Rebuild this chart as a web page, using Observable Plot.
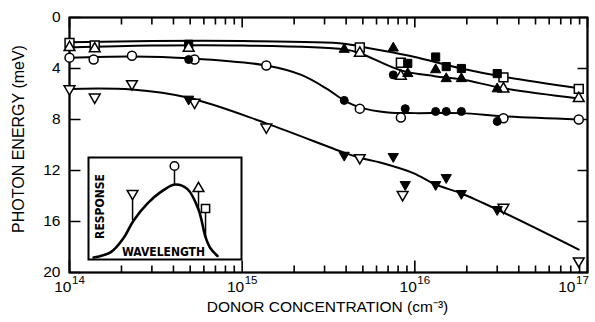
<!DOCTYPE html>
<html><head><meta charset="utf-8">
<script src="https://cdn.jsdelivr.net/npm/d3@7"></script>
<script src="https://cdn.jsdelivr.net/npm/@observablehq/plot@0.6"></script>
<style>
body{margin:0;background:#fff;}
#wrap{position:relative;width:595px;height:322px;background:#fff;}
#wrap svg.inset{position:absolute;left:87px;top:156px;}
</style></head><body><div id="wrap"></div>
<script>
// ---- axis ticks ----
const xTickMajor = [1e14, 1e15, 1e16, 1e17];
const xTickExp = ["14", "15", "16", "17"];
const xTickMinor = [2e14,3e14,4e14,5e14,6e14,7e14,8e14,9e14,
                    2e15,3e15,4e15,5e15,6e15,7e15,8e15,9e15,
                    2e16,3e16,4e16,5e16,6e16,7e16,8e16,9e16];
const yTicks = [0, 4, 8, 12, 16, 20];
const xTitle = "DONOR CONCENTRATION (cm⁻³)";
const yTitle = "PHOTON ENERGY (meV)";

// ---- square series (top curve) ----
const openSquareX = [1e14, 1.4e14, 4.8e15, 8.3e15, 3.26e16, 8.9e16];
const openSquareY = [2.0, 2.2, 2.35, 3.55, 4.7, 5.6];
const filledSquareX = [4.9e14, 9.1e15, 1.32e16, 1.52e16, 1.86e16, 3.0e16];
const filledSquareY = [2.1, 3.6, 3.1, 3.85, 4.0, 4.4];
const curveSquareX = [1e14, 3e14, 1e15, 3.9e15, 4.8e15, 7.5e15, 1e16, 1.86e16, 3.26e16, 8.9e16];
const curveSquareY = [1.95, 1.85, 1.85, 2.05, 2.27, 2.75, 3.1, 4.0, 4.65, 5.55];

// ---- up-triangle series ----
const openTriX = [1e14, 1.4e14, 4.9e14, 4.8e15, 8.3e15, 3.26e16, 8.9e16];
const openTriY = [2.35, 2.45, 2.4, 2.8, 4.6, 5.6, 6.35];
const filledTriX = [3.9e15, 7.5e15, 9.1e15, 1.32e16, 1.52e16, 1.86e16, 3.0e16];
const filledTriY = [2.5, 2.4, 4.4, 4.1, 4.8, 4.8, 5.6];
const curveTriX = [1e14, 3e14, 1e15, 3.9e15, 4.8e15, 8.3e15, 1.3e16, 1.86e16, 3.26e16, 8.9e16];
const curveTriY = [2.35, 2.2, 2.2, 2.5, 2.8, 4.15, 4.6, 4.85, 5.55, 6.35];

// ---- circle series ----
const openCircX = [1e14, 1.38e14, 2.3e14, 5.3e14, 1.38e15, 4.8e15, 8.3e15, 3.26e16, 8.9e16];
const openCircY = [3.15, 3.3, 3.0, 3.3, 3.76, 7.15, 7.85, 7.9, 8.0];
const filledCircX = [4.9e14, 3.9e15, 7.5e15, 8.8e15, 1.32e16, 1.52e16, 1.86e16, 3.0e16];
const filledCircY = [3.3, 6.5, 4.5, 7.15, 7.37, 7.37, 7.37, 8.15];
const curveCircX = [1e14, 2.3e14, 5e14, 1.38e15, 2.2e15, 3.1e15, 3.9e15, 4.8e15, 7e15, 1e16, 1.86e16, 3.26e16, 8.9e16];
const curveCircY = [3.15, 3.05, 3.2, 3.76, 4.5, 5.6, 6.5, 7.05, 7.45, 7.5, 7.5, 7.75, 8.0];

// ---- down-triangle series ----
const openDownX = [1e14, 1.4e14, 2.3e14, 5.3e14, 1.38e15, 4.8e15, 8.5e15, 3.26e16, 8.9e16];
const openDownY = [5.6, 6.25, 5.2, 6.65, 8.6, 11.0, 13.9, 14.9, 19.1];
const filledDownX = [4.9e14, 3.9e15, 7.5e15, 8.8e15, 1.32e16, 1.52e16, 1.86e16, 3.0e16];
const filledDownY = [6.4, 10.8, 10.9, 13.1, 13.1, 12.55, 13.8, 15.06];
const curveDownX = [1e14, 2.3e14, 4.9e14, 1.38e15, 3.9e15, 4.8e15, 6.3e15, 9.8e15, 1.32e16, 1.86e16, 3.0e16, 8.9e16];
const curveDownY = [5.6, 5.65, 6.3, 8.3, 10.6, 11.0, 11.37, 12.2, 13.1, 13.8, 15.06, 18.2];

// ---- inset: response vs wavelength (arbitrary units) ----
const insetWl = [0.033, 0.144, 0.229, 0.294, 0.386, 0.471, 0.565, 0.647, 0.719, 0.765, 0.797, 0.843];
const insetResp = [0.02, 0.07, 0.21, 0.38, 0.55, 0.66, 0.735, 0.69, 0.49, 0.22, 0.11, 0.035];
const insetMarkWl = [0.288, 0.562, 0.719, 0.765];
const insetMarkBase = [0.382, 0.735, 0.49, 0.22];
const insetMarkTop = [0.647, 0.917, 0.696, 0.5];
const insetMarkSym = ["down", "circle", "triangle", "square"];

// ---- helpers ----
const zip = (xs, ys) => xs.map((x, i) => ({x, y: ys[i]}));
const downTri = {
  draw(context, size) {
    const s3 = Math.sqrt(3);
    const y = -Math.sqrt(size / (s3 * 3));
    context.moveTo(0, -y * 2);
    context.lineTo(-s3 * y, y);
    context.lineTo(s3 * y, y);
    context.closePath();
  }
};

const FONT = "'Liberation Sans', Arial, sans-serif";
const W = 595, H = 322, ML = 69, MR = 8, MT = 17, MB = 50;
const FW = W - ML - MR, FH = H - MT - MB;
const Y0 = 0, Y1 = 20, XD0 = 1e14, XD1 = 1e17;
// convert pixel tick lengths to data units (styling only)
const yLen = px => px * (Y1 - Y0) / FH;
const xMul = px => Math.pow(10, px * Math.log10(XD1 / XD0) / FW);

// Each frame side is one continuous polyline that runs along the edge and
// steps inward at every tick (so the ticks are part of the axis line itself).
const xTicksAll = [...xTickMajor.map(v => ({v, major: true})), ...xTickMinor.map(v => ({v, major: false}))]
  .sort((a, b) => a.v - b.v);
const sidePath = (side) => {
  const pts = [];
  if (side === "bottom" || side === "top") {
    const base = side === "bottom" ? Y1 : Y0;
    const dir = side === "bottom" ? -1 : 1;
    xTicksAll.forEach(t => {
      const len = t.major ? (side === "bottom" ? 12 : 10) : 7;
      pts.push({x: t.v, y: base}, {x: t.v, y: base + dir * yLen(len)}, {x: t.v, y: base});
    });
  } else {
    const left = side === "left";
    const xb = left ? XD0 : XD1;
    const xi = left ? XD0 * xMul(11) : XD1 / xMul(10);
    yTicks.forEach(v => pts.push({x: xb, y: v}, {x: xi, y: v}, {x: xb, y: v}));
  }
  return pts;
};
const sideOpts = {x: "x", y: "y", stroke: "black", strokeWidth: 1.6, strokeLinejoin: "miter"};

const curveOpts = {x: "x", y: "y", curve: "catmull-rom", strokeWidth: 2, stroke: "black"};
const openOpts = (sym, r) => ({x: "x", y: "y", symbol: sym, r, fill: "white", stroke: "black", strokeWidth: 1.5});
const fillOpts = (sym, r) => ({x: "x", y: "y", symbol: sym, r, fill: "black", stroke: "black", strokeWidth: 1});

const main = Plot.plot({
  width: W, height: H,
  marginLeft: ML, marginRight: MR, marginTop: MT, marginBottom: MB,
  style: {fontFamily: FONT, background: "white", color: "black"},
  x: {type: "log", domain: [XD0, XD1], axis: null},
  y: {domain: [Y0, Y1], reverse: true, axis: null},
  marks: [
    Plot.frame({strokeWidth: 2, stroke: "black", fill: "none"}),
    // axis lines with inward ticks
    Plot.line(sidePath("bottom"), sideOpts),
    Plot.line(sidePath("top"), sideOpts),
    Plot.line(sidePath("left"), sideOpts),
    Plot.line(sidePath("right"), sideOpts),
    // tick labels
    Plot.text(yTicks, {y: d => d, frameAnchor: "left", textAnchor: "end", lineAnchor: "middle", dx: -9, text: d => String(d), fontSize: 15.5}),
    Plot.text(xTickMajor.slice(0, 3), {x: d => d, frameAnchor: "bottom", textAnchor: "end", lineAnchor: "middle", dx: 2, dy: 15, text: () => "10", fontSize: 15.5}),
    Plot.text(xTickMajor.slice(0, 3), {x: d => d, frameAnchor: "bottom", textAnchor: "start", lineAnchor: "middle", dx: 2.5, dy: 8, text: (d, i) => xTickExp[i], fontSize: 11.5}),
    Plot.text(xTickMajor.slice(3), {x: d => d, frameAnchor: "bottom", textAnchor: "end", lineAnchor: "middle", dx: -12, dy: 15, text: () => "10", fontSize: 15.5}),
    Plot.text(xTickMajor.slice(3), {x: d => d, frameAnchor: "bottom", textAnchor: "start", lineAnchor: "middle", dx: -11.5, dy: 8, text: (d, i) => xTickExp[3 + i], fontSize: 11.5}),
    // axis titles
    Plot.text([xTitle], {frameAnchor: "bottom", textAnchor: "middle", lineAnchor: "middle", dx: -1, dy: 35, text: d => d, fontSize: 15.5, letterSpacing: "1px"}),
    Plot.text([yTitle], {frameAnchor: "left", textAnchor: "middle", lineAnchor: "middle", dx: -51, dy: -6, rotate: -90, text: d => d, fontSize: 16, letterSpacing: "1px"}),
    // curves
    Plot.line(zip(curveSquareX, curveSquareY), curveOpts),
    Plot.line(zip(curveTriX, curveTriY), curveOpts),
    Plot.line(zip(curveCircX, curveCircY), curveOpts),
    Plot.line(zip(curveDownX, curveDownY), curveOpts),
    // markers
    Plot.dot(zip(openSquareX, openSquareY), openOpts("square", 5)),
    Plot.dot(zip(filledSquareX, filledSquareY), fillOpts("square", 4.6)),
    Plot.dot(zip(openTriX, openTriY), openOpts("triangle", 4)),
    Plot.dot(zip(filledTriX, filledTriY), fillOpts("triangle", 3.8)),
    Plot.dot(zip(openCircX, openCircY), openOpts("circle", 4.5)),
    Plot.dot(zip(filledCircX, filledCircY), fillOpts("circle", 4)),
    Plot.dot(zip(openDownX, openDownY), openOpts(downTri, 4)),
    Plot.dot(zip(filledDownX, filledDownY), fillOpts(downTri, 3.8))
  ]
});
document.getElementById("wrap").appendChild(main);

const symMap = {down: downTri, circle: "circle", triangle: "triangle", square: "square"};
const rMap = {down: 4, circle: 4.3, triangle: 4, square: 4.6};
const insetMarks = insetMarkWl.map((wl, i) => ({wl, base: insetMarkBase[i], top: insetMarkTop[i], sym: insetMarkSym[i]}));
const INSET_FONT = "'Liberation Sans Narrow', 'DejaVu Sans Condensed', 'Liberation Sans', Arial, sans-serif";

const inset = Plot.plot({
  width: 155, height: 104, margin: 1,
  style: {background: "white", overflow: "visible", fontFamily: INSET_FONT},
  x: {domain: [0, 1], axis: null},
  y: {domain: [0, 1], axis: null},
  marks: [
    Plot.frame({strokeWidth: 2, stroke: "black", fill: "none"}),
    Plot.line(zip(insetWl, insetResp), {x: "x", y: "y", curve: "catmull-rom", strokeWidth: 2.6, stroke: "black"}),
    Plot.ruleX(insetMarks, {x: "wl", y1: "base", y2: "top", strokeWidth: 1.5, stroke: "black"}),
    ...insetMarks.map(m => Plot.dot([m], {x: "wl", y: "top", symbol: symMap[m.sym], r: rMap[m.sym], fill: "white", stroke: "black", strokeWidth: 1.5})),
    Plot.text(["RESPONSE"], {frameAnchor: "left", textAnchor: "middle", lineAnchor: "middle", dx: 12, dy: -2, rotate: -90, text: d => d, fontSize: 12, fontWeight: "bold"}),
    Plot.text(["WAVELENGTH"], {frameAnchor: "bottom", textAnchor: "middle", lineAnchor: "middle", dx: -1.5, dy: -7, text: d => d, fontSize: 12, fontWeight: "bold"})
  ]
});
inset.classList.add("inset");
document.getElementById("wrap").appendChild(inset);
</script>
</body></html>
